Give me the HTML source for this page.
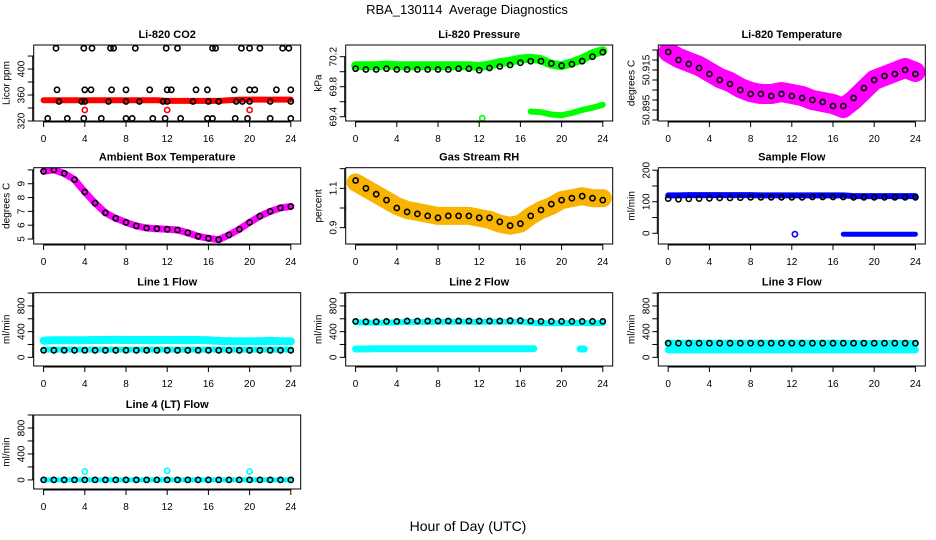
<!DOCTYPE html>
<html><head><meta charset="utf-8"><style>
html,body{margin:0;padding:0;background:#fff;}
svg{display:block;font-family:"Liberation Sans",sans-serif;}
.pt{font-weight:bold;font-size:11px;}
.tk{font-size:10px;}
</style></head><body>
<svg id="chart" width="936" height="540" viewBox="0 0 936 540" xmlns="http://www.w3.org/2000/svg">
<text x="467" y="14" text-anchor="middle" font-size="13" xml:space="preserve">RBA_130114  Average Diagnostics</text>
<text x="468" y="531" text-anchor="middle" font-size="14">Hour of Day (UTC)</text>
</svg>
<script>
const hours=[0,1,2,3,4,5,6,7,8,9,10,11,12,13,14,15,16,17,18,19,20,21,22,23,24];
const xTicks=[0,4,8,12,16,20,24];
// CO2
const co2Red=[352,352,352,352,352,352,352,352,352,352,352,352,351,351,351,351,351,351,352,353,353,353,353,353,353];
const co2OutHours=[4,12,20];
const co2OutVals=[337,337,337];
const co2BlackHours=[1.2,3.9,4.7,6.5,6.8,8.9,11.9,13,16.4,16.7,19.2,20,21,23.2,23.8, 1.3,4,4.6,6.6,8,10.3,12,12.4,14.8,15.9,18.5,20,20.5,22.6,24, 1.5,3.7,4,6.3,8,9.3,11.6,12,14.5,16,17,18.7,19.3,20,22,24, 0.4,2.3,3.9,5.6,8,8.6,10.6,11.8,13.3,15.9,16.4,18.6,19.8,22,24];
const co2BlackVals=[432,432,432,432,432,432,432,432,432,432,432,432,432,432,432, 368,368,368,368,368,368,368,368,368,368,368,368,368,368,368, 350,350,350,350,350,350,350,350,350,350,350,350,350,350,350,350, 324,324,324,324,324,324,324,324,324,324,324,324,324,324,324];
// Pressure
const presGreen=[70.08,70.08,70.08,70.09,70.08,70.08,70.08,70.08,70.08,70.08,70.08,70.08,70.07,70.09,70.12,70.14,70.17,70.18,70.16,70.1,70.08,70.12,70.17,70.24,70.28];
const presBlack=[70.04,70.03,70.03,70.04,70.03,70.03,70.03,70.03,70.03,70.03,70.04,70.04,70.02,70.05,70.07,70.09,70.12,70.14,70.14,70.11,70.08,70.1,70.14,70.2,70.26];
const presLowHours=[17,18,19,20,21,22,23,24];
const presLowVals=[69.47,69.46,69.43,69.42,69.45,69.49,69.52,69.56];
const presOddHours=[12.3];
const presOddVals=[69.38];
// Li-820 temperature
const tempMag=[50.924,50.921,50.919,50.917,50.914,50.911,50.909,50.906,50.904,50.903,50.903,50.904,50.903,50.902,50.900,50.899,50.898,50.896,50.900,50.905,50.910,50.912,50.914,50.916,50.914];
const tempBlack=[50.924,50.920,50.918,50.916,50.913,50.910,50.908,50.905,50.903,50.903,50.902,50.903,50.902,50.901,50.900,50.899,50.897,50.897,50.901,50.906,50.910,50.912,50.913,50.915,50.913];
// Ambient
const ambVals=[9.9,10.0,9.75,9.3,8.4,7.6,6.9,6.5,6.2,5.95,5.8,5.75,5.7,5.65,5.45,5.2,5.05,4.95,5.3,5.7,6.2,6.65,7.0,7.25,7.35];
// RH
const rhBand=[1.13,1.1,1.07,1.04,1.01,0.99,0.98,0.97,0.96,0.96,0.96,0.96,0.95,0.94,0.92,0.91,0.92,0.96,0.99,1.01,1.04,1.05,1.06,1.05,1.05];
const rhBlack=[1.14,1.1,1.07,1.04,1.0,0.98,0.97,0.96,0.95,0.96,0.96,0.96,0.95,0.95,0.93,0.91,0.92,0.96,0.99,1.02,1.04,1.05,1.06,1.05,1.04];
// Sample flow
const sfBlue=[120,120,121,121,121,121,121,121,121,120,120,120,120,120,120,120,120,120,118,118,118,118,118,118,118];
const sfBlack=[110,108,109,110,111,112,112,113,114,114,114,114,114,114,115,115,115,115,114,114,114,114,114,114,114];
const sfLowHours=[12.3,17,18,19,20,21,22,23,24];
const sfLowVals=[-3,-3,-3,-3,-3,-3,-3,-3,-3];
// Line flows
const l1Cyan=[260,265,265,265,265,270,270,275,270,270,270,270,270,270,270,270,265,255,250,250,250,250,255,250,250];
const l1Low=[120,120,120,120,120,120,120,120,120,120,120,120,120,120,120,120,120,120,120,120,120,120,120,120,120];
const l1Black=[110,110,110,110,110,110,110,110,110,110,110,110,110,110,110,110,110,110,110,110,110,110,110,110,110];
const l2Cyan=[545,540,540,540,545,550,550,550,555,555,555,555,550,555,555,555,555,540,530,530,530,535,535,530,535];
const l2Black=[560,555,555,560,560,565,565,565,565,565,565,565,565,565,565,570,570,565,560,560,560,560,560,560,560];
const l2LowHours=[0,1,2,3,4,5,6,7,8,9,10,11,12,13,14,15,16,17.3,21.8,22.2];
const l2LowVals=[130,130,135,135,135,135,135,135,135,135,135,135,135,135,135,135,135,135,130,130];
const l3Cyan=[220,220,220,220,220,220,220,220,220,220,220,220,220,220,220,220,220,220,215,215,215,215,220,215,215];
const l3Low=[115,115,115,115,115,115,115,115,115,115,115,115,115,115,115,115,115,115,115,115,115,115,115,115,115];
const l3Black=[220,220,220,220,220,220,220,220,220,220,220,220,220,220,220,220,220,220,220,220,220,220,220,220,220];
const l4Base=[0,0,0,0,0,0,0,0,0,0,0,0,0,0,0,0,0,0,0,0,0,0,0,0,0];
const l4SpikeHours=[4,12,20];
const l4SpikeVals=[130,140,130];
const flowTicks=[0,200,400,600,800,1000];
const flowLabels=["0","","400","","800",""];

const NS="http://www.w3.org/2000/svg";
const svg=document.getElementById('chart');
const colLeft=[33.7,345.7,658.3], rowTop=[45,167.7,292.7,415], rowH=[76,76.3,73.3,74], W=267;
function mk(tag,attrs,parent){const e=document.createElementNS(NS,tag);for(const k in attrs)e.setAttribute(k,attrs[k]);(parent||svg).appendChild(e);return e;}

function panel(p){
  const L=colLeft[p.col],T=rowTop[p.row],H=rowH[p.row];
  const g=mk('g',{});
  
  
  const xs=h=>L+(h+0.96)/25.92*W;
  const ys=v=>T+H-(v-p.ymin)/(p.ymax-p.ymin)*H;
  const clip=mk('clipPath',{id:'c'+p.name},g);mk('rect',{x:L,y:T,width:W,height:H},clip);
  const data=mk('g',{'clip-path':'url(#c'+p.name+')'},g);
  (p.bands||[]).forEach(b=>{
    const pts=b.x.map((h,i)=>xs(h).toFixed(1)+','+ys(b.y[i]).toFixed(1)).join(' ');
    const pl=mk('polyline',{points:pts,fill:'none',stroke:b.color,'stroke-width':b.w,'stroke-linecap':'round','stroke-linejoin':'round'},data);
    
    
  });
  (p.points||[]).forEach(s=>{
    const sg=mk('g',{},data);
    
    
    s.x.forEach((h,i)=>{
      const c=mk('circle',{cx:xs(h).toFixed(1),cy:ys(s.y[i]).toFixed(1),r:s.r||2.6,fill:s.fill||'none',stroke:s.color,'stroke-width':s.sw||1.6},sg);
      
      
    });
  });
  const box=mk('rect',{x:L,y:T,width:W,height:H,fill:'none',stroke:'#000','stroke-width':1},g);
  
  
  const tt=mk('text',{x:L+W/2,y:T-7,'text-anchor':'middle',class:'pt'},g);tt.textContent=p.title;
  
  
  const yl=mk('text',{x:0,y:0,'text-anchor':'middle',class:'tk',transform:`translate(${L-24},${T+H/2}) rotate(-90)`},g);yl.textContent=p.ylab;
  
  
  mk('line',{x1:xs(0),x2:xs(24),y1:T+H+1,y2:T+H+1,stroke:'#000'},g);
  xTicks.forEach(t=>{
    mk('line',{x1:xs(t),x2:xs(t),y1:T+H,y2:T+H+6,stroke:'#000'},g);
    const tx=mk('text',{x:xs(t),y:T+H+21,'text-anchor':'middle',class:'tk'},g);tx.textContent=t;
    
    
  });
  const yt=p.yticks;
  mk('line',{x1:L-1,x2:L-1,y1:ys(yt[0]),y2:ys(yt[yt.length-1]),stroke:'#000'},g);
  yt.forEach((t,i)=>{
    mk('line',{x1:L-6,x2:L,y1:ys(t),y2:ys(t),stroke:'#000'},g);
    const lab=p.ylabels[i];
    if(lab){const tx=mk('text',{x:0,y:0,'text-anchor':'middle',class:'tk',transform:`translate(${L-9},${ys(t)}) rotate(-90)`},g);tx.textContent=lab;
      
      }
  });
}
panel({name:'co2-panel',col:0,row:0,title:'Li-820 CO2',ylab:'Licor ppm',ymin:320,ymax:437,yticks:[320,340,360,380,400,420],ylabels:['320','','360','','400',''],
  bands:[{name:'co2-red-band',x:hours,y:co2Red,color:'#f00',w:6}],
  points:[{name:'co2-red-outliers',x:co2OutHours,y:co2OutVals,color:'#f00'},{name:'co2-black-points',x:co2BlackHours,y:co2BlackVals,color:'#000'}]});
panel({name:'pressure-panel',col:1,row:0,title:'Li-820 Pressure',ylab:'kPa',ymin:69.343,ymax:70.356,yticks:[69.4,69.6,69.8,70.0,70.2],ylabels:['69.4','','69.8','','70.2'],
  bands:[{name:'pressure-green-band',x:hours,y:presGreen,color:'#0f0',w:9},{name:'pressure-green-low',x:presLowHours,y:presLowVals,color:'#0f0',w:6}],
  points:[{name:'pressure-green-odd',x:presOddHours,y:presOddVals,color:'#0f0'},{name:'pressure-black-points',x:hours,y:presBlack,color:'#000'}]});
panel({name:'li820-temp-panel',col:2,row:0,title:'Li-820 Temperature',ylab:'degrees C',ymin:50.8895,ymax:50.9275,yticks:[50.89,50.895,50.9,50.905,50.91,50.915,50.92,50.925],ylabels:['','50.895','','','','50.915','',''],
  bands:[{name:'temp-magenta-band',x:hours,y:tempMag,color:'#f0f',w:20}],
  points:[{name:'temp-black-points',x:hours,y:tempBlack,color:'#000'}]});
panel({name:'ambient-panel',col:0,row:1,title:'Ambient Box Temperature',ylab:'degrees C',ymin:4.64,ymax:10.16,yticks:[5,6,7,8,9,10],ylabels:['5','6','7','8','9',''],
  bands:[{name:'ambient-magenta-band',x:hours,y:ambVals,color:'#f0f',w:7}],
  points:[{name:'ambient-black-points',x:hours,y:ambVals,color:'#000'}]});
panel({name:'rh-panel',col:1,row:1,title:'Gas Stream RH',ylab:'percent',ymin:0.817,ymax:1.205,yticks:[0.9,1.0,1.1,1.2],ylabels:['0.9','','1.1',''],
  bands:[{name:'rh-orange-band',x:hours,y:rhBand,color:'#f8b400',w:18}],
  points:[{name:'rh-black-points',x:hours,y:rhBlack,color:'#000'}]});
panel({name:'sample-flow-panel',col:2,row:1,title:'Sample Flow',ylab:'ml/min',ymin:-34,ymax:208,yticks:[0,50,100,150,200],ylabels:['0','','100','','200'],
  bands:[{name:'sample-blue-band',x:hours,y:sfBlue,color:'#00f',w:6},{name:'sample-blue-low',x:sfLowHours.slice(1),y:sfLowVals.slice(1),color:'#00f',w:5}],
  points:[{name:'sample-blue-odd',x:sfLowHours.slice(0,1),y:sfLowVals.slice(0,1),color:'#00f'},{name:'sample-black-points',x:hours,y:sfBlack,color:'#000'}]});
panel({name:'line1-panel',col:0,row:2,title:'Line 1 Flow',ylab:'ml/min',ymin:-135,ymax:1006,yticks:flowTicks,ylabels:flowLabels,
  bands:[{name:'line1-cyan-upper',x:hours,y:l1Cyan,color:'#0ff',w:8},{name:'line1-cyan-lower',x:hours,y:l1Low,color:'#0ff',w:6}],
  points:[{name:'line1-black-points',x:hours,y:l1Black,color:'#000'}]});
panel({name:'line2-panel',col:1,row:2,title:'Line 2 Flow',ylab:'ml/min',ymin:-135,ymax:1006,yticks:flowTicks,ylabels:flowLabels,
  bands:[{name:'line2-cyan-upper',x:hours,y:l2Cyan,color:'#0ff',w:6},{name:'line2-cyan-lower',x:l2LowHours.slice(0,18),y:l2LowVals.slice(0,18),color:'#0ff',w:7},{name:'line2-cyan-blob',x:l2LowHours.slice(18),y:l2LowVals.slice(18),color:'#0ff',w:7}],
  points:[{name:'line2-black-points',x:hours,y:l2Black,color:'#000'}]});
panel({name:'line3-panel',col:2,row:2,title:'Line 3 Flow',ylab:'ml/min',ymin:-135,ymax:1006,yticks:flowTicks,ylabels:flowLabels,
  bands:[{name:'line3-cyan-upper',x:hours,y:l3Cyan,color:'#0ff',w:7},{name:'line3-cyan-lower',x:hours,y:l3Low,color:'#0ff',w:7}],
  points:[{name:'line3-black-points',x:hours,y:l3Black,color:'#000'}]});
panel({name:'line4-panel',col:0,row:3,title:'Line 4 (LT) Flow',ylab:'ml/min',ymin:-140,ymax:1000,yticks:flowTicks,ylabels:flowLabels,
  bands:[{name:'line4-cyan-base',x:hours,y:l4Base,color:'#0ff',w:5}],
  points:[{name:'line4-cyan-spikes',x:l4SpikeHours,y:l4SpikeVals,color:'#0ff'},{name:'line4-black-points',x:hours,y:l4Base,color:'#000'}]});
</script>
</body></html>
